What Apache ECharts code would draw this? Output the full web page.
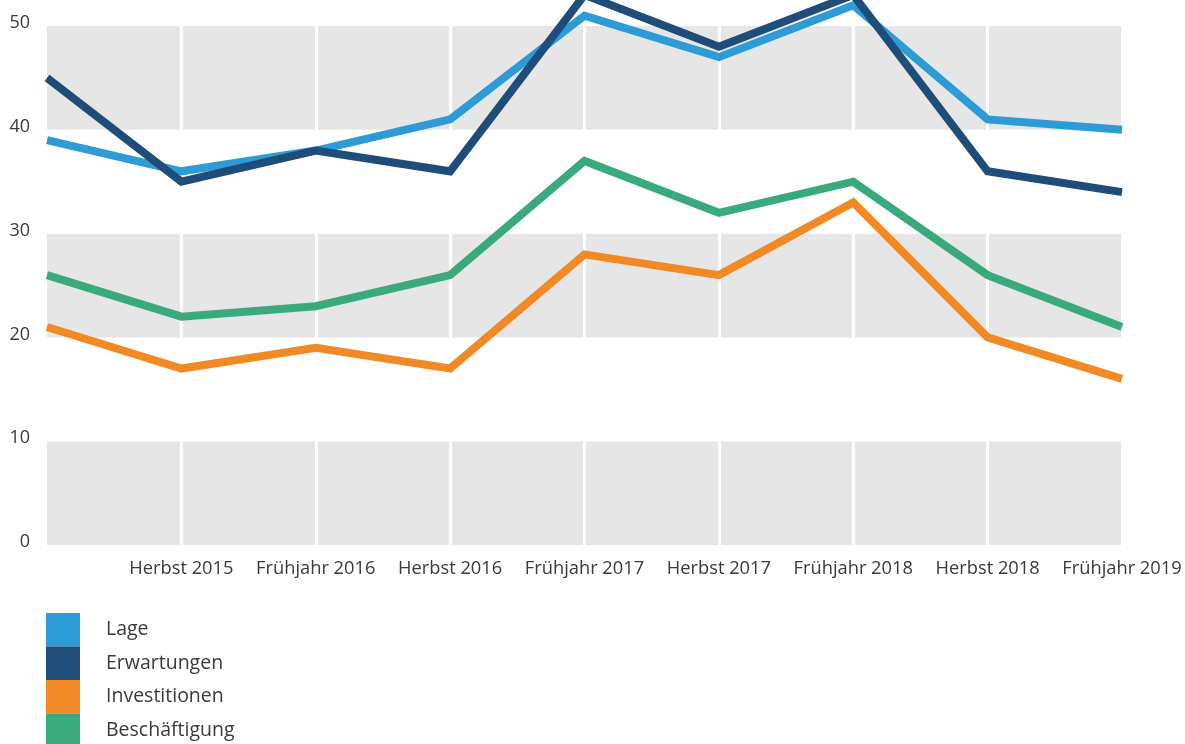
<!DOCTYPE html>
<html>
<head>
<meta charset="utf-8">
<script src="https://cdn.jsdelivr.net/npm/echarts@6/dist/echarts.min.js"></script>
<style>
html,body{margin:0;padding:0;background:#fff;}
#chart{width:1185px;height:744px;}
</style>
</head>
<body>
<div id="chart"></div>
<script>
const categories = ["Frühjahr 2015","Herbst 2015","Frühjahr 2016","Herbst 2016","Frühjahr 2017","Herbst 2017","Frühjahr 2018","Herbst 2018","Frühjahr 2019"];
const lage = [39, 36, 38, 41, 51, 47, 52, 41, 40];
const erwartungen = [45, 35, 38, 36, 53, 48, 53, 36, 34];
const investitionen = [21, 17, 19, 17, 28, 26, 33, 20, 16];
const beschaeftigung = [26, 22, 23, 26, 37, 32, 35, 26, 21];
const yTicks = [0, 10, 20, 30, 40, 50];

const FONT = '"Open Sans", Lato, sans-serif';
const colors = ['#2c9bd6', '#1f4d79', '#f18a24', '#38aa7c'];
const names = ['Lage', 'Erwartungen', 'Investitionen', 'Beschäftigung'];
const datasets = [lage, erwartungen, investitionen, beschaeftigung];

const chart = echarts.init(document.getElementById('chart'));
chart.setOption({
  animation: false,
  backgroundColor: '#fff',
  grid: {left: 47, right: 63, top: 26, bottom: 199, containLabel: false},
  legend: {
    orient: 'vertical',
    left: 46,
    top: 613,
    height: 200,
    padding: 0,
    itemWidth: 34,
    itemHeight: 33.5,
    itemGap: 0,
    icon: 'rect',
    selectedMode: false,
    textStyle: {fontFamily: FONT, fontSize: 19.5, color: '#3a3a3a', padding: [0,0,0,21]},
    data: names
  },
  xAxis: {
    type: 'category',
    data: categories,
    boundaryGap: false,
    axisLine: {show: false},
    axisTick: {show: false},
    axisLabel: {
      interval: function (idx) { return idx > 0; },
      margin: 15,
      fontFamily: FONT, fontSize: 18.3, color: '#3a3a3a'
    },
    splitLine: {show: true, lineStyle: {color: '#ffffff', width: 3}}
  },
  yAxis: {
    type: 'value',
    min: yTicks[0],
    max: yTicks[yTicks.length - 1],
    interval: 10,
    axisLine: {show: false},
    axisTick: {show: false},
    splitLine: {show: false},
    splitArea: {show: true, areaStyle: {color: ['#e6e6e6', '#ffffff']}},
    axisLabel: {
      margin: 17,
      verticalAlign: 'bottom',
      lineHeight: 6,
      fontFamily: FONT, fontSize: 18, color: '#3a3a3a'
    }
  },
  series: datasets.map((d, i) => ({
    name: names[i],
    type: 'line',
    data: d,
    symbol: 'none',
    clip: false,
    color: colors[i],
    lineStyle: {width: 8, color: colors[i], join: 'miter'},
    itemStyle: {color: colors[i]}
  }))
});
</script>
</body>
</html>
